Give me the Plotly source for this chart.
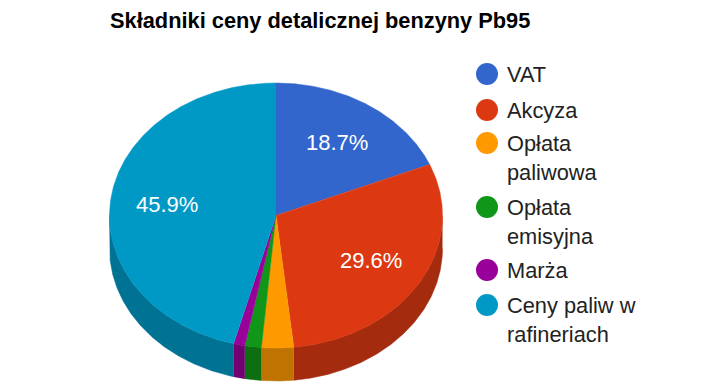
import numpy as np
import plotly.graph_objects as go

title = "Składniki ceny detalicznej benzyny Pb95"
categories = ["VAT", "Akcyza", "Opłata<br>paliwowa", "Opłata<br>emisyjna", "Marża", "Ceny paliw w<br>rafineriach"]
values = [18.7, 29.6, 3.1, 1.6, 1.1, 45.9]
colors = ["#3366CC", "#DC3912", "#FF9900", "#109618", "#990099", "#0099C6"]
side_colors = ["#264C99", "#A52B0E", "#BF7300", "#0C7012", "#730073", "#007394"]
legend_y = [74, 110, 143, 207, 270, 305]

CX, CY, RX, RY, DEPTH = 276, 215.5, 166.5, 132.5, 33
FONT = "Liberation Sans, Arial, sans-serif"

fracs = np.array(values) / sum(values) * 360
ends = np.cumsum(fracs)
starts = ends - fracs


def arc(t0, t1, dy=0.0):
    t = np.radians(np.linspace(t0, t1, max(int(abs(t1 - t0) * 2), 2) + 1))
    return CX + RX * np.sin(t), CY - RY * np.cos(t) + dy


fig = go.Figure()
for s, e, c in zip(starts, ends, side_colors):
    a, b = max(s, 90), min(e, 270)
    if b <= a:
        continue
    x1, y1 = arc(a, b)
    x2, y2 = arc(b, a, DEPTH)
    fig.add_trace(go.Scatter(x=np.r_[x1, x2], y=np.r_[y1, y2], mode="lines", fill="toself",
                             fillcolor=c, line=dict(color=c, width=0.5), hoverinfo="skip", showlegend=False))
for s, e, c, name in zip(starts, ends, colors, categories):
    x1, y1 = arc(s, e)
    fig.add_trace(go.Scatter(x=np.r_[CX, x1], y=np.r_[CY, y1], mode="lines", fill="toself",
                             fillcolor=c, line=dict(color=c, width=0.5), name=name.replace("<br>", " "),
                             hoverinfo="name", showlegend=False))

annotations = [dict(x=108, y=20, text=f"<b>{title}</b>", xanchor="left", yanchor="middle", showarrow=False,
                    font=dict(family=FONT, size=21.8, color="#000000"))]
for s, e, v in zip(starts, ends, values):
    if v < 5:
        continue
    t = np.radians((s + e) / 2)
    annotations.append(dict(x=CX + 0.66 * RX * np.sin(t), y=CY - 0.66 * RY * np.cos(t), text=f"{v:.1f}%",
                            showarrow=False, font=dict(family=FONT, size=22, color="#FFFFFF")))

fig.add_trace(go.Scatter(x=[487] * len(categories), y=legend_y, mode="markers",
                         marker=dict(size=22, color=colors, line=dict(width=0)),
                         hoverinfo="skip", showlegend=False))
for name, y in zip(categories, legend_y):
    lines = name.split("<br>")
    for i, line in enumerate(lines):
        annotations.append(dict(x=505, y=y + i * 29, text=line, xanchor="left", yanchor="middle", showarrow=False,
                                font=dict(family=FONT, size=21.8, color="#222222")))

fig.update_layout(
    width=707, height=390, margin=dict(l=0, r=0, t=0, b=0), paper_bgcolor="white", plot_bgcolor="white",
    xaxis=dict(range=[0, 707], visible=False, fixedrange=True),
    yaxis=dict(range=[390, 0], visible=False, fixedrange=True),
    annotations=annotations, showlegend=False,
)
fig.write_html("out.html", config={"displayModeBar": False},
               post_script="document.body.style.margin='0';document.documentElement.style.overflow='hidden';")
